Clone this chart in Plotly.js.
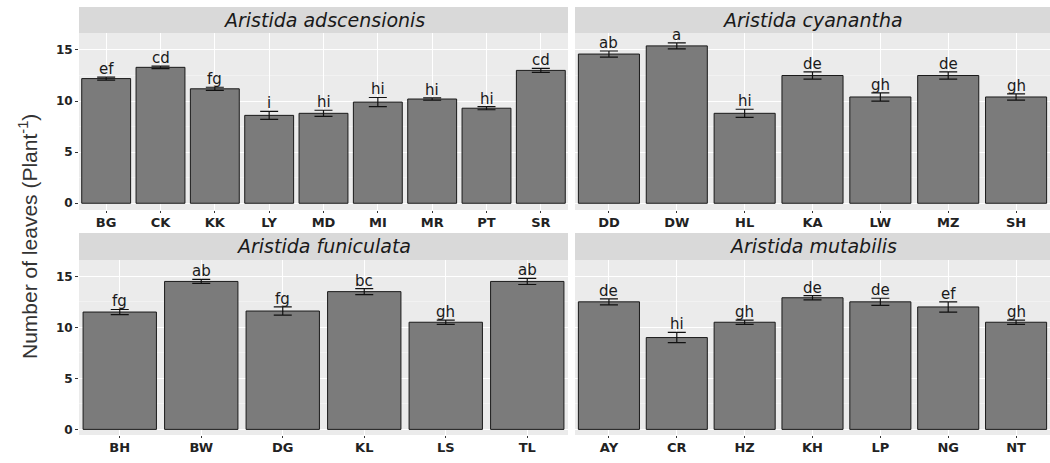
<!DOCTYPE html>
<html>
<head>
<meta charset="utf-8">
<script src="https://cdn.plot.ly/plotly-3.0.1.min.js"></script>
<style>html,body{margin:0;padding:0;background:#fff;}#chart{width:1050px;height:463px;}</style>
</head>
<body>
<div id="chart"></div>
<script>
// ---- data ----
const speciesNames = ['Aristida adscensionis', 'Aristida cyanantha', 'Aristida funiculata', 'Aristida mutabilis'];

const catsA = ['BG','CK','KK','LY','MD','MI','MR','PT','SR'];
const valsA = [12.2, 13.3, 11.2, 8.6, 8.8, 9.9, 10.2, 9.3, 13.0];
const errA  = [0.15, 0.12, 0.15, 0.4, 0.3, 0.45, 0.12, 0.15, 0.2];
const lettersA = ['ef','cd','fg','i','hi','hi','hi','hi','cd'];

const catsB = ['DD','DW','HL','KA','LW','MZ','SH'];
const valsB = [14.6, 15.4, 8.8, 12.5, 10.4, 12.5, 10.4];
const errB  = [0.3, 0.3, 0.4, 0.35, 0.4, 0.35, 0.3];
const lettersB = ['ab','a','hi','de','gh','de','gh'];

const catsC = ['BH','BW','DG','KL','LS','TL'];
const valsC = [11.5, 14.5, 11.6, 13.5, 10.5, 14.5];
const errC  = [0.25, 0.2, 0.4, 0.3, 0.2, 0.3];
const lettersC = ['fg','ab','fg','bc','gh','ab'];

const catsD = ['AY','CR','HZ','KH','LP','NG','NT'];
const valsD = [12.5, 9.0, 10.5, 12.9, 12.5, 12.0, 10.5];
const errD  = [0.3, 0.5, 0.2, 0.2, 0.35, 0.5, 0.2];
const lettersD = ['de','hi','gh','de','de','ef','gh'];

const yTickVals = [0, 5, 10, 15];

// ---- build ----
const panels = [
  {cats: catsA, vals: valsA, err: errA, letters: lettersA, xa: 'x',  ya: 'y'},
  {cats: catsB, vals: valsB, err: errB, letters: lettersB, xa: 'x2', ya: 'y2'},
  {cats: catsC, vals: valsC, err: errC, letters: lettersC, xa: 'x3', ya: 'y3'},
  {cats: catsD, vals: valsD, err: errD, letters: lettersD, xa: 'x4', ya: 'y4'}
];

const W = 1050, H = 463;
const px = v => v / W;
const py = v => 1 - v / H;

const xDom = [[px(79), px(568)], [px(575), 1], [px(79), px(568)], [px(575), 1]];
const yDom = [[py(210), py(33)], [py(210), py(33)], [py(435), py(260)], [py(435), py(260)]];
const stripY = [[py(33), py(7)], [py(33), py(7)], [py(260), py(233)], [py(260), py(233)]];
const yRanges = [[-0.66, 16.66], [-0.66, 16.66], [-0.55, 16.6], [-0.55, 16.6]];

const font = 'Liberation Sans, Arial, sans-serif';
const wideFont = 'DejaVu Sans, Liberation Sans, sans-serif';
const traces = [];
const annotations = [];
const shapes = [];
const layout = {
  width: W, height: H,
  margin: {l: 0, r: 0, t: 0, b: 0},
  paper_bgcolor: '#ffffff',
  plot_bgcolor: '#ebebeb',
  showlegend: false,
  font: {family: font, color: '#333'},
  bargap: 0.1
};

panels.forEach((p, i) => {
  traces.push({
    type: 'bar',
    x: p.cats, y: p.vals,
    xaxis: p.xa, yaxis: p.ya,
    marker: {color: '#7b7b7b', line: {color: '#1a1a1a', width: 1}},
    error_y: {type: 'data', array: p.err, visible: true, color: '#111', thickness: 1.2, width: 9},
    hoverinfo: 'x+y'
  });
  p.cats.forEach((c, j) => {
    annotations.push({
      xref: p.xa, yref: p.ya, x: c, y: p.vals[j] + p.err[j],
      text: p.letters[j], showarrow: false, yanchor: 'bottom', yshift: -3,
      font: {family: wideFont, size: 15, color: '#1a1a1a'}
    });
  });
  const xk = i === 0 ? 'xaxis' : 'xaxis' + (i + 1);
  const yk = i === 0 ? 'yaxis' : 'yaxis' + (i + 1);
  layout[xk] = {
    domain: xDom[i], anchor: p.ya, type: 'category',
    showgrid: true, gridcolor: '#ffffff', gridwidth: 1,
    ticks: 'outside', ticklen: 2, tickcolor: '#333', tickwidth: 1,
    ticklabelstandoff: -2,
    tickfont: {family: wideFont, size: 13, color: '#222', weight: 'bold'},
    showline: false, zeroline: false, fixedrange: true
  };
  layout[yk] = {
    domain: yDom[i], anchor: p.xa,
    range: yRanges[i],
    tickvals: yTickVals, ticktext: yTickVals.map(String),
    showgrid: true, gridcolor: '#ffffff', gridwidth: 1,
    minor: {tickvals: [2.5, 7.5, 12.5], showgrid: true, gridcolor: '#f6f6f6', gridwidth: 0.6},
    ticks: (i % 2 === 0) ? 'outside' : '', ticklen: 3, tickcolor: '#333',
    showticklabels: i % 2 === 0,
    tickfont: {family: wideFont, size: 12, color: '#222', weight: 'bold'},
    zeroline: false, showline: false, fixedrange: true
  };
  shapes.push({
    type: 'rect', xref: 'paper', yref: 'paper', layer: 'below',
    x0: xDom[i][0], x1: xDom[i][1], y0: stripY[i][0], y1: stripY[i][1],
    fillcolor: '#d9d9d9', line: {width: 0}
  });
  annotations.push({
    xref: 'paper', yref: 'paper',
    x: (xDom[i][0] + xDom[i][1]) / 2, y: (stripY[i][0] + stripY[i][1]) / 2,
    text: '<i>' + speciesNames[i] + '</i>', showarrow: false,
    xanchor: 'center', yanchor: 'middle',
    font: {family: wideFont, size: 19, color: '#1a1a1a'}
  });
});

annotations.push({
  xref: 'paper', yref: 'paper', x: px(28), y: py(237),
  text: 'Number of leaves (Plant<sup>-1</sup>)', showarrow: false, textangle: -90,
  xanchor: 'center', yanchor: 'middle',
  font: {family: font, size: 21, color: '#333'}
});

layout.annotations = annotations;
layout.shapes = shapes;

Plotly.newPlot('chart', traces, layout, {displayModeBar: false, staticPlot: true});
</script>
</body>
</html>
